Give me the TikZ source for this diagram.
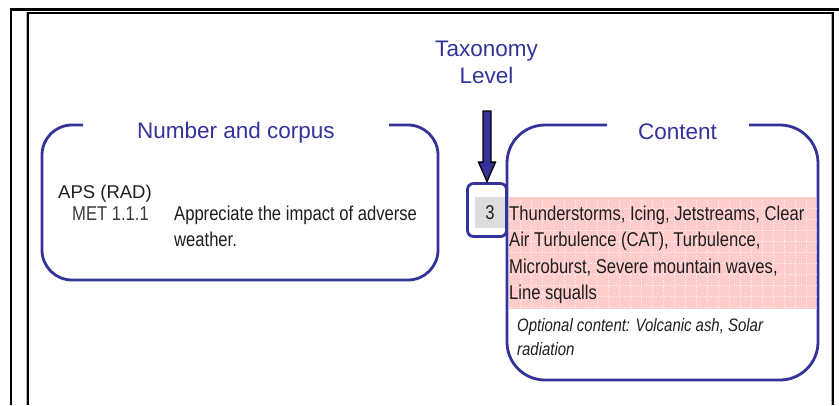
\documentclass[tikz,border=0pt]{standalone}
\usepackage{fontspec}
\setmainfont{Liberation Sans}
\newfontfamily\nar[FakeStretch=0.83]{Liberation Sans}
\usetikzlibrary{calc}
\definecolor{tblue}{RGB}{51,51,153}
\definecolor{tpink}{RGB}{255,204,204}
\definecolor{tdark}{RGB}{30,30,30}
\definecolor{tgrayt}{RGB}{60,60,60}
\definecolor{lgray}{RGB}{221,221,221}
\tikzset{
  boxline/.style={draw=tblue, line width=2.8pt},
  ttl/.style={text=tblue, font=\fontsize{22.5}{26}\selectfont, anchor=base, inner sep=0pt},
  body/.style={text=tdark, font=\nar\fontsize{20}{26}\selectfont, anchor=base west, inner sep=0pt},
  opt/.style={text=tdark, font=\nar\itshape\fontsize{18}{23}\selectfont, anchor=base west, inner sep=0pt},
  griddot/.style={white, line width=0.6pt, dash pattern=on 1pt off 1.5pt, opacity=0.75},
  bigarrow/.style={draw=black, fill=tblue, line width=1.3pt, line join=miter}
}
\begin{document}
\begin{tikzpicture}[x=1pt,y=-1pt]
\useasboundingbox (0,0) rectangle (839,405);
% frames
\draw[line width=2.3pt] (11,405) -- (11,9.5) -- (839,9.5);
\draw[gray!60, line width=1pt] (26.8,405) -- (26.8,12) -- (831.8,12) -- (831.8,405);
\draw[line width=1.8pt] (28,405) -- (28,13.3) -- (833,13.3) -- (833,405);
% left box
\draw[boxline, rounded corners=30pt] (83,125) -- (42,125) -- (42,280) -- (438,280) -- (438,125) -- (389,125);
\node[ttl] (numttl) at (236,138) {Number and corpus};
% right box
\draw[boxline, rounded corners=38pt] (607,125) -- (507,125) -- (507,380) -- (818,380) -- (818,125) -- (749,125);
\node[ttl] (conttl) at (677.5,139) {Content};
% taxonomy
\node[ttl] (tax) at (486.5,56) {Taxonomy};
\node[ttl] (lev) at (486.5,83) {Level};
% level box
\node[draw=tblue, line width=2.8pt, rounded corners=6pt, minimum width=39pt, minimum height=53pt, inner sep=0pt] (lvl) at (487,210) {};
\node[fill=lgray, minimum width=30pt, minimum height=31pt, inner sep=0pt, text=tdark, font=\nar\fontsize{20}{26}\selectfont] (three) at (490,212.5) {3};
\coordinate (arrtop) at (487,111);
\draw[bigarrow] let \p1=(arrtop), \p2=(lvl.north) in
  (\x2-4pt,\y1) -- (\x2+4pt,\y1) -- (\x2+4pt,\y2+20pt) -- (\x2+8.5pt,\y2+20pt) -- (\x2,\y2+0.5pt) -- (\x2-8.5pt,\y2+20pt) -- (\x2-4pt,\y2+20pt) -- cycle;
% pink region
\fill[tpink] (508.5,197) rectangle (816.3,309);
\foreach \x in {520,531,...,816} \draw[griddot] (\x,197) -- (\x,309);
\foreach \y in {208,219,...,308} \draw[griddot] (508.5,\y) -- (816.3,\y);
% left texts
\node[anchor=base west, inner sep=0pt, text=tdark, font=\fontsize{18.5}{24}\selectfont] (aps) at (58,198) {APS (RAD)};
\node[body, text=tgrayt] (met) at (72,220) {MET 1.1.1};
\node[body] (app1) at (174,220) {Appreciate the impact of adverse};
\node[body] (app2) at (174,246.7) {weather.};
% content texts
\node[body] (c1) at (509,220) {Thunderstorms, Icing, Jetstreams, Clear};
\node[body] (c2) at (509,246.7) {Air Turbulence (CAT), Turbulence,};
\node[body] (c3) at (509,273.5) {Microburst, Severe mountain waves,};
\node[body] (c4) at (509,299.5) {Line squalls};
\node[opt] (o1) at (517,331.5) {Optional content: Volcanic ash, Solar};
\node[opt] (o2) at (517,355) {radiation};
\end{tikzpicture}
\end{document}
